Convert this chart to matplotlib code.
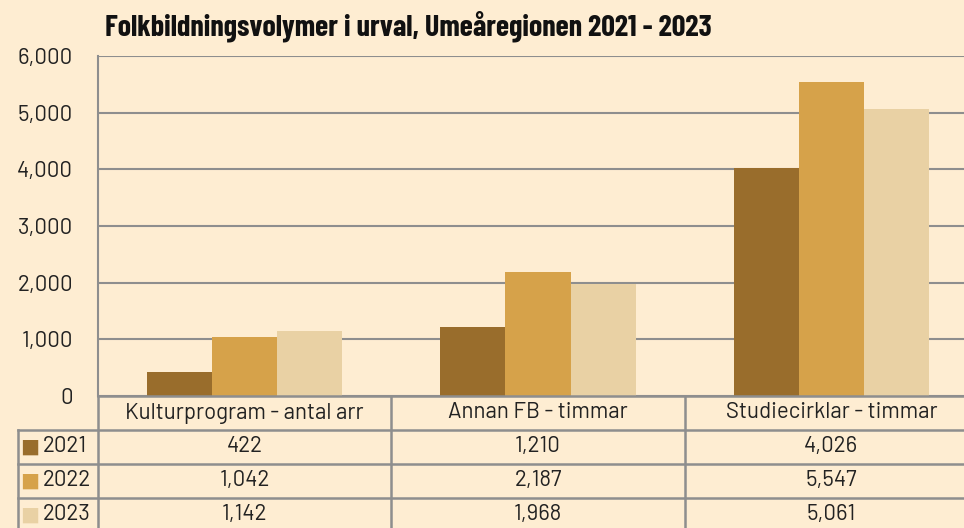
import matplotlib
matplotlib.use("Agg")
import matplotlib.pyplot as plt
import matplotlib.transforms as mtransforms
import numpy as np

categories = ["Kulturprogram - antal arr", "Annan FB - timmar", "Studiecirklar - timmar"]
years = ["2021", "2022", "2023"]
v2021 = [422, 1210, 4026]
v2022 = [1042, 2187, 5547]
v2023 = [1142, 1968, 5061]
series = [v2021, v2022, v2023]
colors = ["#996D2C", "#D6A24A", "#E9D1A4"]
title = "Folkbildningsvolymer i urval, Umeåregionen 2021 - 2023"

BG = "#FEEDD2"
GRID = "#8E8E8E"
TXT = "#222222"
FS = 16
plt.rcParams["font.family"] = ["Barlow", "DejaVu Sans"]

fig = plt.figure(figsize=(9.64, 5.28), dpi=100, facecolor=BG)
ax = fig.add_axes([98 / 964, 132 / 528, 880 / 964, 340 / 528])
ax.set_facecolor(BG)

x = np.arange(len(categories))
w = 0.222
for i, vals in enumerate(series):
    ax.bar(x + (i - 1) * w, vals, width=w, color=colors[i], zorder=3)

ax.set_xlim(-0.5, len(categories) - 0.5)
ax.set_ylim(0, 6000)
ax.set_yticks(range(0, 6001, 1000))
ax.set_yticklabels([f"{v:,}" for v in range(0, 6001, 1000)], fontsize=FS, color=TXT)
ax.tick_params(axis="y", length=0, pad=18)
ax.set_xticks([])
ax.grid(axis="y", color=GRID, linewidth=1.5, zorder=0)
for s in ["right", "bottom", "top"]:
    ax.spines[s].set_visible(False)
ax.spines["left"].set_color(GRID)
ax.spines["left"].set_linewidth(1.5)

# data table under the plot
rh = 0.1
lab_x = -0.0908
line_kw = dict(color=GRID, linewidth=1.8, clip_on=False, zorder=5)
tr = ax.transAxes
blend = mtransforms.blended_transform_factory(ax.transData, ax.transAxes)
ax.plot([0, 1], [0, 0], transform=tr, **line_kw)
ax.plot([0, 0], [0, -0.5], transform=tr, **line_kw)
ax.plot([lab_x, lab_x], [-rh, -0.5], transform=tr, **line_kw)
for r in range(1, 4):
    ax.plot([lab_x, 1], [-r * rh, -r * rh], transform=tr, **line_kw)
for b in x[:-1] + 0.5:
    ax.plot([b, b], [0, -0.5], transform=blend, **line_kw)

for j, cat in enumerate(categories):
    ax.text(x[j], -0.5 * rh, cat, transform=blend, ha="center", va="center",
            fontsize=FS, color=TXT)
for i, vals in enumerate(series):
    yc = -(i + 1.5) * rh
    ax.text(lab_x + 0.0135, yc, "■", transform=tr, ha="center", va="center",
            fontsize=14.5, color=colors[i], family="DejaVu Sans")
    ax.text(lab_x + 0.028, yc, years[i], transform=tr, ha="left", va="center",
            fontsize=FS, color=TXT)
    for j, v in enumerate(vals):
        ax.text(x[j], yc, f"{v:,}", transform=blend, ha="center", va="center",
                fontsize=FS, color=TXT)

fig.text(105 / 964, 1 - 35 / 528, title, ha="left", va="baseline", fontsize=21.7,
         fontweight="bold", family=["Barlow Condensed", "DejaVu Sans"], color="#111111")

fig.savefig("out.png", dpi=100, facecolor=BG)
